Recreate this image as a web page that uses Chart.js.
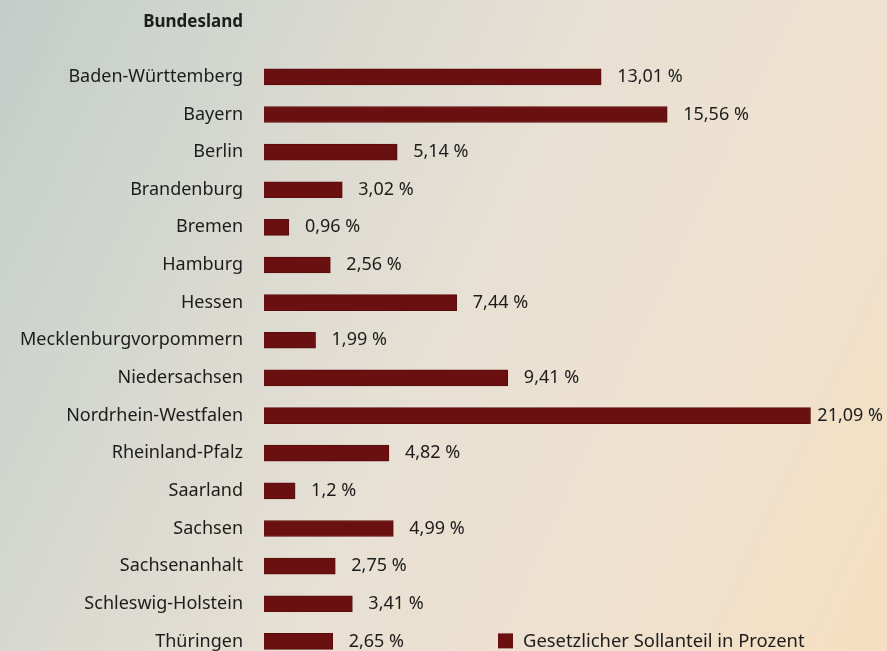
<!DOCTYPE html>
<html>
<head>
<meta charset="utf-8">
<script src="https://cdn.jsdelivr.net/npm/chart.js@4"></script>
<style>
    html, body { margin: 0; padding: 0; overflow: hidden; }
    body { width: 887px; height: 651px; background: linear-gradient(115deg, #c3cdca 0%, #d6d8d0 25%, #e7e0d4 50%, #efe1cf 75%, #f5dfc0 100%); }
    #chart { display: block; }
</style>
</head>
<body>
<canvas id="chart" width="887" height="692"></canvas>
<script>
const states = [
    'Baden-Württemberg', 'Bayern', 'Berlin', 'Brandenburg', 'Bremen', 'Hamburg', 'Hessen',
    'Mecklenburgvorpommern', 'Niedersachsen', 'Nordrhein-Westfalen', 'Rheinland-Pfalz',
    'Saarland', 'Sachsen', 'Sachsenanhalt', 'Schleswig-Holstein', 'Thüringen'
];
const shares = [13.01, 15.56, 5.14, 3.02, 0.96, 2.56, 7.44, 1.99, 9.41, 21.09, 4.82, 1.2, 4.99, 2.75, 3.41, 2.65];
const seriesLabel = 'Gesetzlicher Sollanteil in Prozent';
const axisTitle = 'Bundesland';

const barColor = '#6b1010';
const textColor = '#1c1c1c';
const fontFamily = '"Noto Sans", sans-serif';

function formatShare(v) {
    return `${String(v).replace('.', ',')} %`;
}

// header, value labels and legend
const extras = {
    id: 'extras',
    afterDatasetsDraw(chart) {
        const ctx = chart.ctx;
        const area = chart.chartArea;
        ctx.save();
        ctx.fillStyle = textColor;
        ctx.textBaseline = 'middle';

        ctx.font = `bold 17px ${fontFamily}`;
        ctx.textAlign = 'right';
        ctx.fillText(axisTitle, area.left - 21, 22);

        ctx.font = `18px ${fontFamily}`;
        ctx.textAlign = 'left';
        const meta = chart.getDatasetMeta(0);
        meta.data.forEach((bar, i) => {
            const text = formatShare(chart.data.datasets[0].data[i]);
            // keep the label inside the canvas
            const x = Math.min(bar.x + 16, chart.width - 4 - ctx.measureText(text).width);
            ctx.fillText(text, x, bar.y);
        });

        // legend, on the line of the last bar
        const last = meta.data[meta.data.length - 1];
        const ds = chart.data.datasets[0];
        ctx.fillStyle = ds.backgroundColor;
        ctx.fillRect(498, last.y - 8, 15, 15);
        ctx.fillStyle = textColor;
        ctx.font = `18.4px ${fontFamily}`;
        ctx.fillText(ds.label, 523, last.y);
        ctx.restore();
    }
};

new Chart(document.getElementById('chart'), {
    type: 'bar',
    data: {
        labels: states,
        datasets: [{
            label: seriesLabel,
            data: shares,
            backgroundColor: barColor,
            borderColor: '#5a0c0c',
            borderWidth: 1,
            barThickness: 16
        }]
    },
    options: {
        indexAxis: 'y',
        responsive: false,
        animation: false,
        // canvas is taller than the window: the last row runs off the bottom edge
        layout: { padding: { left: 20, right: 27, top: 58, bottom: 10 } },
        scales: {
            x: {
                display: false,
                min: 0,
                max: 23
            },
            y: {
                grid: { display: false, drawTicks: false },
                border: { display: false },
                ticks: {
                    color: textColor,
                    padding: 21,
                    font: { family: fontFamily, size: 18 }
                },
                afterFit(scale) {
                    scale.width = 244;
                }
            }
        },
        plugins: {
            legend: { display: false },
            tooltip: { enabled: false }
        }
    },
    plugins: [extras]
});
</script>
</body>
</html>
